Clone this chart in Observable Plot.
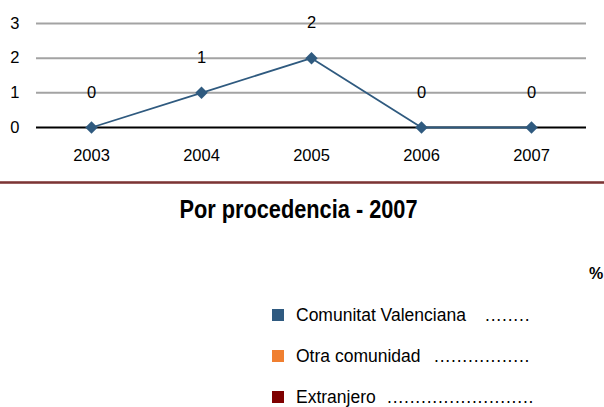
<!DOCTYPE html>
<html>
<head>
<meta charset="utf-8">
<script src="https://cdn.jsdelivr.net/npm/d3@7"></script>
<script src="https://cdn.jsdelivr.net/npm/@observablehq/plot@0.6"></script>
<style>
  html, body { margin: 0; padding: 0; background: #fff; }
  #wrap { position: relative; width: 604px; height: 407px; overflow: hidden; font-family: "Liberation Sans", Arial, sans-serif; color: #000; }
  #chart { position: absolute; left: 0; top: 0; }
  #sep { position: absolute; left: 0; top: 181px; width: 604px; height: 3px; background: linear-gradient(#b98888, #7a3535 35%, #7a3535 65%, #b98888); }
  #title { position: absolute; left: 0; width: 597px; top: 197px; text-align: center; font-family: "Liberation Sans", Arial, sans-serif; font-weight: bold; font-size: 25px; line-height: 25px; transform: scaleX(0.87); transform-origin: 298.5px 50%; white-space: nowrap; }
  #pct { position: absolute; left: 589px; top: 264px; font-weight: bold; font-size: 16px; line-height: 20px; }
  .row { position: absolute; left: 0; height: 20px; font-size: 17.5px; line-height: 20px; white-space: nowrap; }
  .sw { position: absolute; left: 272px; top: 4px; width: 12px; height: 12px; }
  .lab { position: absolute; left: 296px; top: 0; }
  .dots { position: absolute; top: 0; letter-spacing: 0.8px; }
</style>
</head>
<body>
<div id="wrap">
  <div id="chart"></div>
  <div id="sep"></div>
  <div id="title"></div>
  <div id="pct">%</div>
  <div id="legend"></div>
</div>
<script>
const years = ["2003", "2004", "2005", "2006", "2007"];
const values = [0, 1, 2, 0, 0];
const yTicks = [0, 1, 2, 3];
const titleText = "Por procedencia - 2007";
const legendLabels = ["Comunitat Valenciana", "Otra comunidad", "Extranjero"];
const legendColors = ["#2f5a80", "#f07f30", "#7f0000"];
const legendDots = ["........", ".................", ".........................."];

const data = years.map((y, i) => ({year: y, value: values[i]}));
const lineColor = "#2f5a7f";

const chart = Plot.plot({
  width: 604,
  height: 175,
  marginLeft: 36,
  marginRight: 18,
  marginTop: 23,
  marginBottom: 48,
  style: {fontFamily: "'Liberation Sans', Arial, sans-serif", fontSize: "16.5px", color: "#000", background: "transparent"},
  x: {type: "point", domain: years, padding: 0.5, label: null, tickSize: 0, tickPadding: 22},
  y: {domain: [0, 3], ticks: yTicks, tickFormat: d => String(d), label: null, tickSize: 0, tickPadding: 17},
  marks: [
    Plot.ruleY(yTicks.filter(d => d > 0), {stroke: "#a3a3a3", strokeWidth: 2}),
    Plot.ruleY([0], {stroke: "#000", strokeWidth: 2}),
    Plot.line(data, {x: "year", y: "value", stroke: lineColor, strokeWidth: 1.8}),
    Plot.dot(data, {x: "year", y: "value", symbol: "diamond2", r: 5.6, fill: lineColor, stroke: "none"}),
    Plot.text(data, {x: "year", y: "value", text: d => String(d.value), dy: -35, fontSize: 16.5, fill: "#000"})
  ]
});
document.getElementById("chart").appendChild(chart);
document.getElementById("title").textContent = titleText;

const dotsLeft = [485, 434, 387];
const rowTops = [305, 346, 387];
const legend = document.getElementById("legend");
legendLabels.forEach((lab, i) => {
  const row = document.createElement("div");
  row.className = "row";
  row.style.top = rowTops[i] + "px";
  row.style.width = "604px";
  const sw = document.createElement("div");
  sw.className = "sw";
  sw.style.background = legendColors[i];
  const t = document.createElement("div");
  t.className = "lab";
  t.textContent = lab;
  const d = document.createElement("div");
  d.className = "dots";
  d.style.left = dotsLeft[i] + "px";
  d.textContent = legendDots[i];
  row.appendChild(sw);
  row.appendChild(t);
  row.appendChild(d);
  legend.appendChild(row);
});
</script>
</body>
</html>
